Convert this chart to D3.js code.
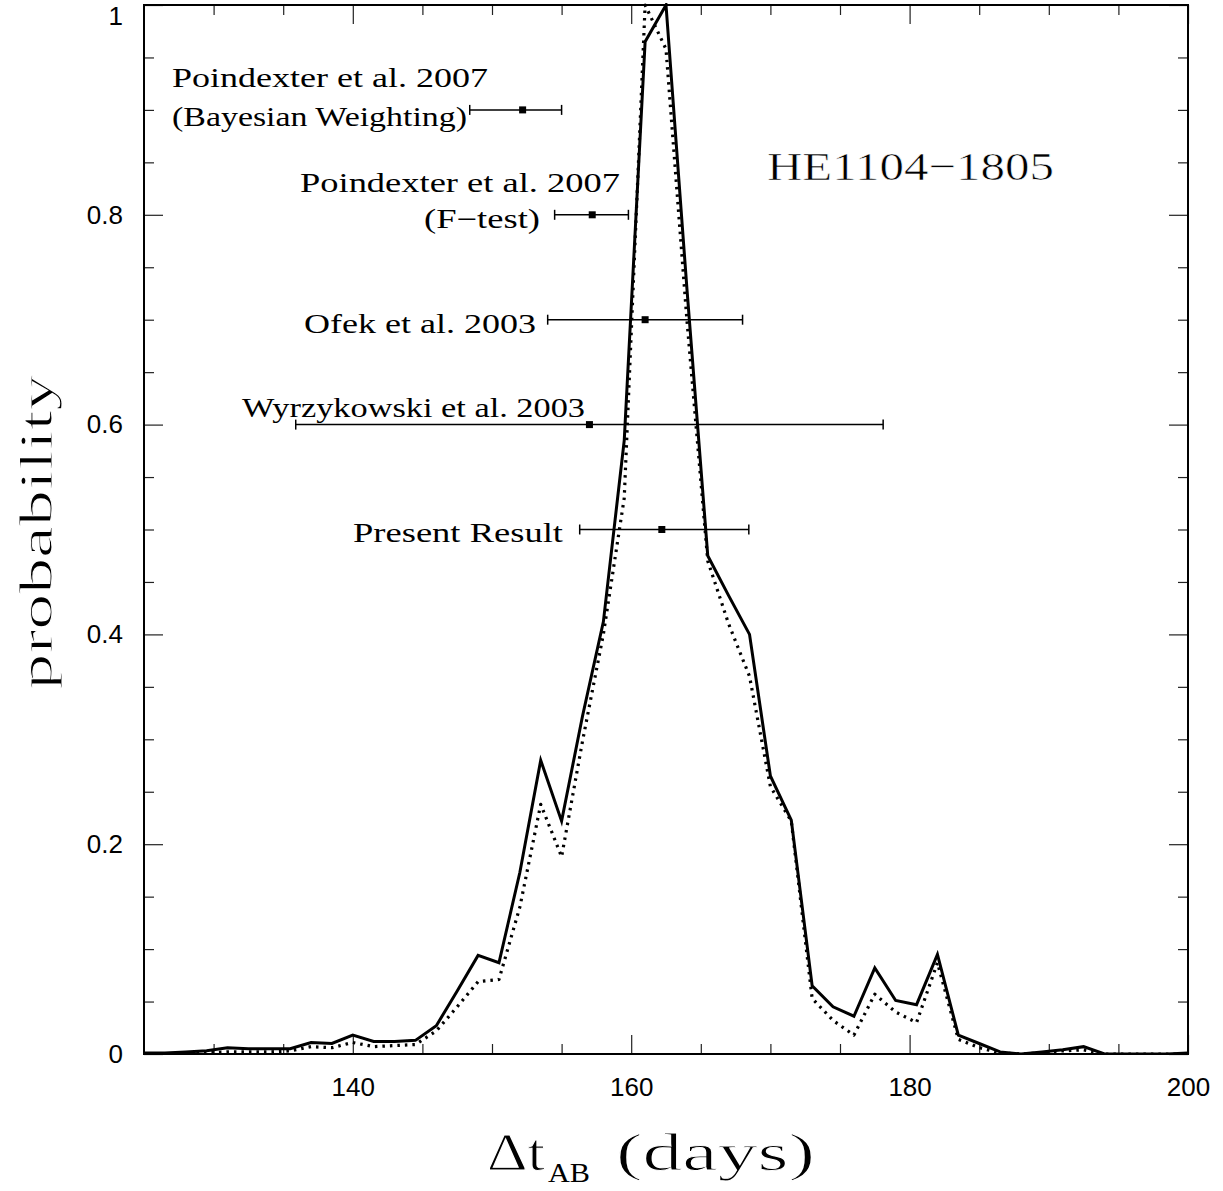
<!DOCTYPE html>
<html><head><meta charset="utf-8">
<script src="https://cdn.jsdelivr.net/npm/d3@7"></script>
<style>body{margin:0;background:#fff}</style>
</head><body><svg id="c" width="1223" height="1191"></svg>
<script>
// ---- data ----
const delays = [125,126.5,128,129.5,131,132.5,134,135.5,137,138.5,140,141.5,143,144.5,146,147.5,149,150.5,152,153.5,155,156.5,158,159.5,161,162.5,164,165.5,167,168.5,170,171.5,173,174.5,176,177.5,179,180.5,182,183.5,185,186.5,188,189.5,191,192.5,194,195.5,197,198.5,200];
const probSolid = [0.001,0.001,0.002,0.003,0.006,0.005,0.005,0.005,0.011,0.010,0.018,0.012,0.012,0.013,0.027,0.060,0.094,0.087,0.173,0.280,0.222,0.322,0.412,0.585,0.965,1.000,0.730,0.475,0.437,0.400,0.265,0.223,0.065,0.045,0.036,0.082,0.051,0.047,0.095,0.018,0.010,0.002,0.000,0.002,0.004,0.007,0.000,0.000,0.000,0.000,0.001];
const probDotted = [0.000,0.000,0.001,0.001,0.002,0.002,0.002,0.003,0.007,0.006,0.011,0.007,0.008,0.009,0.022,0.045,0.069,0.071,0.140,0.238,0.188,0.298,0.400,0.530,1.000,0.958,0.700,0.470,0.410,0.360,0.255,0.222,0.053,0.032,0.018,0.057,0.040,0.030,0.087,0.014,0.006,0.001,0.000,0.001,0.003,0.004,0.000,0.000,0.000,0.000,0.000];

const measLabels = [["Poindexter et al. 2007","(Bayesian Weighting)"],["Poindexter et al. 2007","(F\u2212test)"],["Ofek et al. 2003"],["Wyrzykowski et al. 2003"],["Present Result"]];
const measCenter = [152.2,157.2,161.0,157.0,162.2];
const measLow    = [148.4,154.5,154.0,135.9,156.3];
const measHigh   = [155.0,159.8,168.0,178.1,168.45];
const measLevel  = [0.9,0.8,0.7,0.6,0.5];

const xTickValues = [140,160,180,200];
const xTickLabels = ["140","160","180","200"];
const yTickValues = [0,0.2,0.4,0.6,0.8,1];
const yTickLabels = ["0","0.2","0.4","0.6","0.8","1"];
const objectName = "HE1104\u22121805";

// ---- layout ----
const L = 144, R = 1188, T = 5, B = 1054;
const svg = d3.select("#c");
const x = d3.scaleLinear().domain([125,200]).range([L,R]);
const y = d3.scaleLinear().domain([0,1]).range([B,T]);

svg.append("defs").append("clipPath").attr("id","clip")
  .append("rect").attr("x",L).attr("y",T-2).attr("width",R-L).attr("height",B-T+2);

const xMinor = d3.range(130,200,5).filter(v=>v%20!==0);
const yMinor = d3.range(1,20).map(i=>i*0.05).filter(v=>Math.abs(v*5-Math.round(v*5))>1e-6);

function tickStyle(g){
  g.select(".domain").remove();
  g.selectAll(".tick line").attr("stroke","#222").attr("stroke-width",1.2);
}
const tickFont = "'Liberation Sans', Arial, sans-serif";

// bottom
svg.append("g").attr("transform",`translate(0,${B})`)
  .call(d3.axisBottom(x).tickValues(xTickValues).tickFormat((d,i)=>xTickLabels[i]).tickSizeInner(-19).tickSizeOuter(0).tickPadding(24))
  .call(tickStyle)
  .call(g=>g.selectAll("text").attr("font-family",tickFont).attr("font-size",26).attr("fill","#000"));
svg.append("g").attr("transform",`translate(0,${B})`)
  .call(d3.axisBottom(x).tickValues(xMinor).tickFormat("").tickSizeInner(-10).tickSizeOuter(0))
  .call(tickStyle);
// top
svg.append("g").attr("transform",`translate(0,${T})`)
  .call(d3.axisTop(x).tickValues(xTickValues).tickFormat("").tickSizeInner(-19).tickSizeOuter(0))
  .call(tickStyle);
svg.append("g").attr("transform",`translate(0,${T})`)
  .call(d3.axisTop(x).tickValues(xMinor).tickFormat("").tickSizeInner(-10).tickSizeOuter(0))
  .call(tickStyle);
// left
svg.append("g").attr("transform",`translate(${L},0)`)
  .call(d3.axisLeft(y).tickValues(yTickValues).tickFormat((d,i)=>yTickLabels[i]).tickSizeInner(-19).tickSizeOuter(0).tickPadding(21))
  .call(tickStyle)
  .call(g=>g.selectAll("text").attr("font-family",tickFont).attr("font-size",26).attr("fill","#000"))
  .call(g=>g.selectAll(".tick").filter(d=>d===1).select("text").attr("dy","0.76em"));
svg.append("g").attr("transform",`translate(${L},0)`)
  .call(d3.axisLeft(y).tickValues(yMinor).tickFormat("").tickSizeInner(-10).tickSizeOuter(0))
  .call(tickStyle);
// right
svg.append("g").attr("transform",`translate(${R},0)`)
  .call(d3.axisRight(y).tickValues(yTickValues).tickFormat("").tickSizeInner(-19).tickSizeOuter(0))
  .call(tickStyle);
svg.append("g").attr("transform",`translate(${R},0)`)
  .call(d3.axisRight(y).tickValues(yMinor).tickFormat("").tickSizeInner(-10).tickSizeOuter(0))
  .call(tickStyle);

// curves
const line = d3.line().x((d,i)=>x(delays[i])).y(d=>y(d));
const plot = svg.append("g").attr("clip-path","url(#clip)");
plot.append("path").datum(probDotted).attr("d",line)
  .attr("fill","none").attr("stroke","#000").attr("stroke-width",3.2)
  .attr("stroke-dasharray","2.5 5").attr("stroke-linejoin","round");
plot.append("path").datum(probSolid).attr("d",line)
  .attr("fill","none").attr("stroke","#000").attr("stroke-width",3).attr("stroke-linejoin","miter");

// frame
svg.append("rect").attr("x",L).attr("y",T).attr("width",R-L).attr("height",B-T)
  .attr("fill","none").attr("stroke","#000").attr("stroke-width",2);

// measurements
const serif = "'Liberation Serif', 'Times New Roman', serif";
const labelLayout = [
  [{x:172,y:87,a:"start",w:316},{x:172,y:126,a:"start",w:295}],
  [{x:620,y:192,a:"end",w:320},{x:540,y:228,a:"end",w:116}],
  [{x:536,y:333,a:"end",w:232}],
  [{x:242,y:417,a:"start",w:343}],
  [{x:563,y:542,a:"end",w:210}]
];
const mg = svg.append("g");
measCenter.forEach((c,i)=>{
  const yy = y(measLevel[i]);
  mg.append("line").attr("x1",x(measLow[i])).attr("x2",x(measHigh[i])).attr("y1",yy).attr("y2",yy)
    .attr("stroke","#000").attr("stroke-width",1.5);
  [measLow[i],measHigh[i]].forEach(v=>{
    mg.append("line").attr("x1",x(v)).attr("x2",x(v)).attr("y1",yy-5).attr("y2",yy+5)
      .attr("stroke","#000").attr("stroke-width",1.5);
  });
  mg.append("rect").attr("x",x(c)-3.5).attr("y",yy-3.5).attr("width",7).attr("height",7).attr("fill","#000");
  measLabels[i].forEach((t,j)=>{
    const p = labelLayout[i][j];
    mg.append("text").attr("x",p.x).attr("y",p.y).attr("text-anchor",p.a)
      .attr("font-family",serif).attr("font-size",27)
      .attr("textLength",p.w).attr("lengthAdjust","spacingAndGlyphs")
      .text(t);
  });
});

// slightly thinned strokes for large titles
function thin(sel, w){ return sel.attr("stroke","#fff").attr("stroke-width",w).attr("paint-order","normal"); }

// object name
svg.append("text").attr("x",767).attr("y",180).attr("font-family",serif).attr("font-size",41)
  .attr("textLength",287).attr("lengthAdjust","spacingAndGlyphs").text(objectName).call(thin,0.6);

// axis titles
svg.append("text").attr("transform","translate(52,532) rotate(-90)").attr("text-anchor","middle")
  .attr("font-family",serif).attr("font-size",46).attr("textLength",315).attr("lengthAdjust","spacingAndGlyphs")
  .text("probability").call(thin,1);
const xt = svg.append("g").attr("font-family",serif).attr("fill","#000");
xt.append("text").attr("x",487).attr("y",1170).attr("font-size",52).attr("textLength",58).attr("lengthAdjust","spacingAndGlyphs").text("\u0394t").call(thin,1);
xt.append("text").attr("x",548).attr("y",1182).attr("font-size",28).attr("textLength",42).attr("lengthAdjust","spacingAndGlyphs").text("AB");
xt.append("text").attr("x",616).attr("y",1170).attr("font-size",52).attr("textLength",199).attr("lengthAdjust","spacingAndGlyphs").text("(days)").call(thin,1);
</script></body></html>
